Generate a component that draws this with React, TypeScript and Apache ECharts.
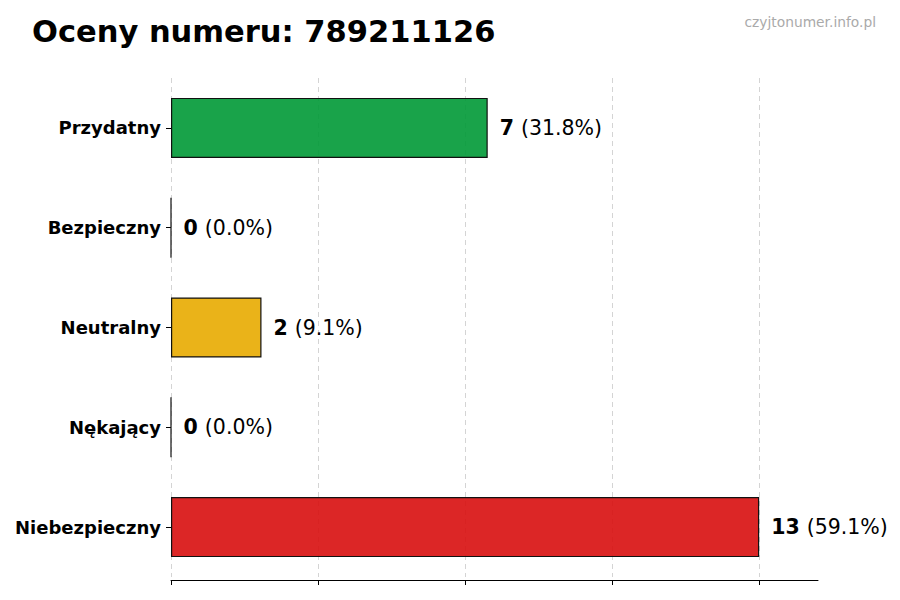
import { useEffect, useRef } from "react";
import * as echarts from "echarts";

const categories = ["Przydatny", "Bezpieczny", "Neutralny", "Nękający", "Niebezpieczny"];
const counts = [7, 0, 2, 0, 13];
const percents = ["31.8%", "0.0%", "9.1%", "0.0%", "59.1%"];
const barColors = [
  "rgba(0,153,54,0.9)",
  "rgba(0,153,54,0.9)",
  "rgba(232,171,0,0.9)",
  "rgba(216,14,14,0.9)",
  "rgba(216,14,14,0.9)",
];

const FONT = "DejaVu Sans";

export default function App() {
  const ref = useRef<HTMLDivElement>(null);

  useEffect(() => {
    if (!ref.current) return;
    const chart = echarts.init(ref.current, undefined, { renderer: "svg" });
    const maxVal = Math.max(...counts);
    const step = maxVal / 4;
    const tickValues = [0, 1, 2, 3, 4].map((k) => k * step);
    chart.setOption({
      animation: false,
      backgroundColor: "#ffffff",
      textStyle: { fontFamily: FONT },
      title: [
        {
          text: "Oceny numeru: 789211126",
          left: 27,
          top: 11,
          textStyle: { fontFamily: FONT, fontSize: 30.5, fontWeight: "bold", color: "#000" },
        },
        {
          text: "czyjtonumer.info.pl",
          right: 19,
          top: 10,
          textStyle: { fontFamily: FONT, fontSize: 13.8, fontWeight: "normal", color: "#aaaaaa" },
        },
      ],
      grid: { left: 171, right: 82, top: 78, bottom: 23, containLabel: false },
      xAxis: {
        type: "value",
        min: 0,
        max: maxVal * 1.1,
        interval: step,
        offset: 3,
        axisLabel: { show: false },
        axisLine: { show: true, onZero: false, lineStyle: { color: "#000", width: 1 } },
        axisTick: {
          show: true,
          length: 5,
          customValues: tickValues,
          lineStyle: { color: "#000" },
        },
        splitLine: {
          show: true,
          showMaxLine: true,
          lineStyle: { color: "#d4d4d4", type: [5, 4], width: 1 },
        },
      },
      yAxis: {
        type: "category",
        inverse: true,
        data: categories,
        axisLine: { show: false },
        axisTick: { show: true, length: 5, alignWithLabel: true, lineStyle: { color: "#000" } },
        axisLabel: {
          fontFamily: FONT,
          fontSize: 18,
          fontWeight: "bold",
          color: "#000",
          margin: 10,
        },
      },
      series: [
        {
          type: "bar",
          barWidth: 60,
          data: counts.map((v, i) => ({
            value: v,
            itemStyle: {
              color: barColors[i],
              borderColor: "#111",
              borderWidth: 1.2,
            },
          })),
          label: {
            show: true,
            position: "right",
            distance: 12,
            formatter: (p: any) => `{b|${p.value}}{n|(${percents[p.dataIndex]})}`,
            rich: {
              b: { fontFamily: FONT, fontSize: 20.5, fontWeight: "bold", color: "#000" },
              n: { fontFamily: FONT, fontSize: 20.5, color: "#000", padding: [0, 0, 0, 7] },
            },
          },
        },
      ],
    });
    return () => chart.dispose();
  }, []);

  return <div ref={ref} style={{ width: 900, height: 600, margin: -8 }} />;
}
